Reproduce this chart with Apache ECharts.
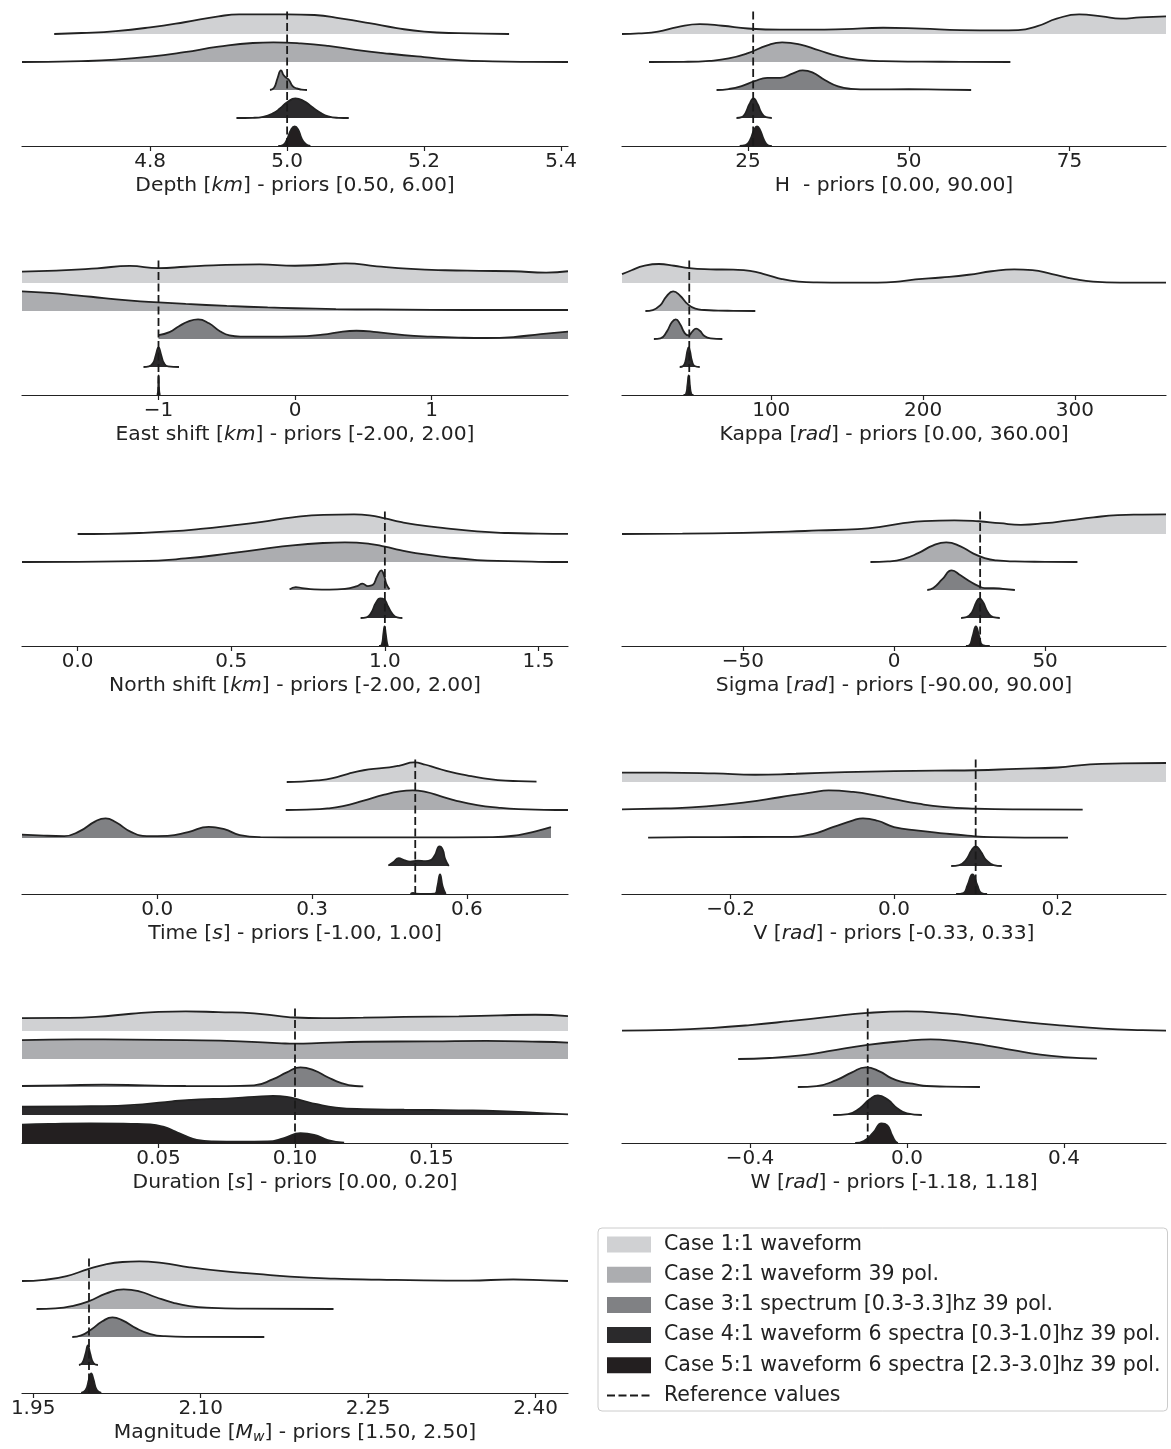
<!DOCTYPE html>
<html><head><meta charset="utf-8">
<script src="https://cdn.jsdelivr.net/npm/echarts@6/dist/echarts.min.js"></script>
<style>html,body{margin:0;padding:0;background:#fff}#chart{width:1171px;height:1449px}</style>
</head><body><div id="chart"></div><script>
// ---------- legend / case names ----------
const caseNames = [
  'Case 1:1 waveform',
  'Case 2:1 waveform 39 pol.',
  'Case 3:1 spectrum [0.3-3.3]hz 39 pol.',
  'Case 4:1 waveform 6 spectra [0.3-1.0]hz 39 pol.',
  'Case 5:1 waveform 6 spectra [2.3-3.0]hz 39 pol.'
];
const refName = 'Reference values';

// ---------- panel axes ----------
const panelTitles = [
  'Depth [{i|km}] - priors [0.50, 6.00]',
  'H  - priors [0.00, 90.00]',
  'East shift [{i|km}] - priors [-2.00, 2.00]',
  'Kappa [{i|rad}] - priors [0.00, 360.00]',
  'North shift [{i|km}] - priors [-2.00, 2.00]',
  'Sigma [{i|rad}] - priors [-90.00, 90.00]',
  'Time [{i|s}] - priors [-1.00, 1.00]',
  'V [{i|rad}] - priors [-0.33, 0.33]',
  'Duration [{i|s}] - priors [0.00, 0.20]',
  'W [{i|rad}] - priors [-1.18, 1.18]',
  'Magnitude [{i|M}{s|w}] - priors [1.50, 2.50]'
];
const panelRanges = [
  [4.613, 5.41], [5.4, 90], [-2, 2], [1.7, 360], [-0.181, 1.596], [-90, 90],
  [-0.262, 0.796], [-0.333, 0.333], [0, 0.2], [-0.726, 0.66], [1.94, 2.429]
];
const panelTicks = [
  [4.8, 5.0, 5.2, 5.4], [25, 50, 75], [-1, 0, 1], [100, 200, 300], [0, 0.5, 1.0, 1.5],
  [-50, 0, 50], [0, 0.3, 0.6], [-0.2, 0, 0.2], [0.05, 0.10, 0.15], [-0.4, 0, 0.4],
  [1.95, 2.10, 2.25, 2.40]
];
const panelTickDecimals = [1, 0, 0, 0, 1, 0, 1, 1, 2, 1, 2];
const panelRefs = [5.0, 25.8, -1.0, 46, 1.0, 28.5, 0.5, 0.1, 0.1, -0.1, 2.0];

// ---------- ridge data: [x, relative density (peak = 1)] ----------
const depthCase1 = [[4.660,0],[4.70,0.05],[4.75,0.15],[4.80,0.34],[4.85,0.6],[4.90,0.9],[4.93,1.0],[4.97,1.0],[5.0,1.0],[5.04,0.97],[5.08,0.78],[5.12,0.55],[5.16,0.3],[5.2,0.12],[5.25,0.04],[5.324,0.0]];
const depthCase2 = [[4.613,0],[4.65,0.01],[4.7,0.04],[4.75,0.12],[4.8,0.27],[4.85,0.5],[4.9,0.78],[4.95,0.97],[4.98,1.0],[5.02,0.95],[5.06,0.82],[5.1,0.62],[5.15,0.42],[5.2,0.25],[5.25,0.1],[5.3,0.03],[5.35,0.005],[5.41,0]];
const depthCase3 = [[4.975,0],[4.981,0.12],[4.986,0.6],[4.991,1.0],[4.995,0.75],[4.999,0.62],[5.003,0.5],[5.008,0.2],[5.014,0.08],[5.021,0.02],[5.029,0]];
const depthCase4 = [[4.926,0],[4.95,0.01],[4.965,0.06],[4.98,0.25],[4.99,0.5],[5.0,0.8],[5.012,1.0],[5.025,0.85],[5.035,0.6],[5.048,0.28],[5.06,0.08],[5.075,0.01],[5.09,0]];
const depthCase5 = [[4.987,0],[4.994,0.05],[5.0,0.35],[5.006,0.85],[5.011,1.0],[5.016,0.85],[5.021,0.4],[5.027,0.1],[5.034,0]];

const hCase1 = [[5.4,0.0],[8,0.03],[11,0.12],[14,0.35],[17.5,0.5],[21,0.42],[25,0.28],[30,0.22],[35,0.22],[40,0.25],[46,0.32],[52,0.27],[58,0.2],[64,0.18],[67,0.2],[70,0.4],[73,0.78],[76.5,1.0],[80,0.9],[83,0.78],[86,0.85],[90,0.9]];
const hCase2 = [[9.6,0],[15,0.01],[19,0.06],[22,0.18],[25,0.45],[28,0.85],[30.3,1.0],[33,0.9],[36,0.6],[39,0.3],[42,0.12],[46,0.04],[52,0.02],[58,0.01],[65.8,0]];
const hCase3 = [[20.1,0],[22,0.05],[24,0.2],[26,0.45],[28,0.62],[30,0.62],[32,0.85],[33.5,1.0],[35,0.9],[37,0.5],[39,0.18],[41,0.06],[44,0.03],[50,0.04],[55,0.02],[59.7,0]];
const hCase4 = [[23.2,0],[24,0.04],[24.6,0.25],[25.2,0.7],[25.85,1.0],[26.5,0.7],[27.1,0.25],[27.8,0.04],[28.7,0]];
const hCase5 = [[23.7,0],[24.6,0.04],[25.3,0.3],[25.9,0.8],[26.4,1.0],[26.9,0.8],[27.5,0.3],[28.1,0.04],[28.7,0]];

const eastCase1 = [[-2,0.58],[-1.75,0.63],[-1.45,0.75],[-1.21,0.87],[-1.0,0.76],[-0.8,0.83],[-0.6,0.9],[-0.26,0.95],[0,0.88],[0.2,0.93],[0.37,1.0],[0.6,0.85],[0.85,0.72],[1.1,0.65],[1.35,0.62],[1.6,0.6],[1.84,0.53],[2.0,0.6]];
const eastCase2 = [[-2,1.0],[-1.8,0.92],[-1.6,0.8],[-1.4,0.66],[-1.2,0.53],[-1.0,0.44],[-0.8,0.36],[-0.5,0.26],[-0.2,0.18],[0,0.14],[0.3,0.1],[0.6,0.08],[1.0,0.06],[1.5,0.05],[2.0,0.05]];
const eastCase3 = [[-1.0,0.2],[-0.92,0.35],[-0.85,0.65],[-0.78,0.9],[-0.71,1.0],[-0.63,0.8],[-0.55,0.4],[-0.48,0.18],[-0.4,0.12],[-0.2,0.12],[0,0.13],[0.2,0.22],[0.35,0.38],[0.45,0.42],[0.6,0.35],[0.8,0.2],[1.0,0.12],[1.2,0.07],[1.4,0.05],[1.6,0.1],[1.8,0.25],[2.0,0.38]];
const eastCase4 = [[-1.11,0],[-1.07,0.03],[-1.04,0.2],[-1.02,0.6],[-1.0,1.0],[-0.98,0.6],[-0.96,0.2],[-0.93,0.03],[-0.85,0]];
const eastCase5 = [[-1.008,0],[-1.003,0.2],[-0.999,1.0],[-0.995,0.2],[-0.99,0]];

const kappaCase1 = [[1.7,0.45],[8,0.65],[16,0.87],[26,0.97],[36,0.88],[46,0.76],[60,0.7],[75,0.68],[86,0.62],[97,0.42],[107,0.2],[118,0.07],[130,0.03],[150,0.02],[170,0.02],[185,0.08],[195,0.18],[212,0.28],[230,0.42],[245,0.6],[260,0.7],[272,0.66],[285,0.45],[300,0.2],[312,0.07],[330,0.02],[360,0.02]];
const kappaCase2 = [[17.1,0],[22,0.05],[27,0.3],[31,0.75],[35.4,1.0],[40,0.78],[45,0.35],[50,0.12],[56,0.05],[65,0.02],[75,0.01],[89.5,0]];
const kappaCase3 = [[22.7,0],[27,0.03],[31,0.35],[34.5,0.85],[37.1,1.0],[40,0.75],[43,0.3],[45.5,0.18],[48,0.38],[50.5,0.53],[53,0.42],[56,0.15],[60,0.03],[67.8,0]];
const kappaCase4 = [[39.7,0],[42,0.05],[43.5,0.3],[44.7,0.8],[45.6,1.0],[46.5,0.8],[47.8,0.3],[49.5,0.05],[52.9,0]];
const kappaCase5 = [[42.2,0],[43.8,0.05],[44.8,0.5],[45.6,1.0],[46.4,0.5],[47.4,0.05],[48.8,0]];

const northCase1 = [[0.0,0],[0.1,0.01],[0.2,0.05],[0.3,0.13],[0.4,0.26],[0.5,0.43],[0.6,0.62],[0.7,0.85],[0.8,0.98],[0.9,1.0],[0.95,0.95],[1.0,0.8],[1.05,0.62],[1.1,0.48],[1.2,0.29],[1.3,0.13],[1.4,0.05],[1.5,0.02],[1.596,0.01]];
const northCase2 = [[-0.181,0],[0.0,0.01],[0.2,0.04],[0.35,0.18],[0.5,0.45],[0.6,0.66],[0.7,0.85],[0.8,0.97],[0.87,1.0],[0.95,0.93],[1.0,0.78],[1.05,0.6],[1.1,0.45],[1.2,0.25],[1.3,0.1],[1.4,0.04],[1.5,0.01],[1.596,0]];
const northCase3 = [[0.69,0.03],[0.71,0.15],[0.73,0.1],[0.77,0.03],[0.82,0.02],[0.87,0.06],[0.91,0.2],[0.927,0.33],[0.945,0.2],[0.96,0.25],[0.975,0.7],[0.988,1.0],[0.998,0.7],[1.005,0.3],[1.015,0.03]];
const northCase4 = [[0.921,0],[0.94,0.03],[0.955,0.25],[0.97,0.75],[0.985,1.0],[0.998,0.95],[1.01,0.6],[1.025,0.2],[1.04,0.03],[1.057,0]];
const northCase5 = [[0.981,0],[0.99,0.08],[0.995,0.6],[0.999,1.0],[1.003,0.6],[1.008,0.08],[1.011,0]];

const sigmaCase1 = [[-90,0.0],[-70,0.02],[-50,0.06],[-35,0.12],[-25,0.18],[-12,0.25],[-5,0.35],[3,0.55],[10,0.66],[20,0.7],[28,0.65],[35,0.55],[42,0.47],[50,0.55],[58,0.7],[66,0.85],[74,0.96],[82,0.99],[90,1.0]];
const sigmaCase2 = [[-7.8,0],[-2,0.03],[3,0.15],[8,0.45],[13,0.85],[17.3,1.0],[22,0.8],[26,0.45],[30,0.2],[34,0.08],[40,0.03],[50,0.01],[60.7,0]];
const sigmaCase3 = [[11,0],[13,0.1],[16,0.55],[19.1,1.0],[22,0.75],[25,0.45],[28,0.2],[30,0.1],[33,0.1],[36,0.06],[40,0]];
const sigmaCase4 = [[22.2,0],[24,0.04],[25.8,0.3],[27.2,0.8],[28.3,1.0],[29.5,0.8],[31,0.3],[32.8,0.04],[35,0]];
const sigmaCase5 = [[23.8,0],[25,0.05],[26,0.5],[27.1,1.0],[28.2,0.5],[29.3,0.05],[31.7,0]];

const timeCase1 = [[0.251,0],[0.28,0.02],[0.31,0.08],[0.34,0.2],[0.37,0.42],[0.4,0.6],[0.43,0.7],[0.45,0.75],[0.47,0.84],[0.498,1.0],[0.52,0.88],[0.54,0.72],[0.57,0.5],[0.6,0.34],[0.63,0.2],[0.66,0.1],[0.7,0.04],[0.735,0.02]];
const timeCase2 = [[0.249,0],[0.29,0.02],[0.33,0.08],[0.36,0.2],[0.4,0.48],[0.44,0.78],[0.47,0.95],[0.495,1.0],[0.52,0.92],[0.55,0.7],[0.58,0.47],[0.62,0.25],[0.66,0.12],[0.7,0.04],[0.75,0.01],[0.796,0]];
const timeCase3 = [[-0.262,0.17],[-0.22,0.12],[-0.18,0.1],[-0.15,0.35],[-0.12,0.85],[-0.1,1.0],[-0.08,0.8],[-0.05,0.3],[-0.02,0.1],[0.02,0.11],[0.06,0.3],[0.1,0.57],[0.13,0.45],[0.16,0.15],[0.2,0.04],[0.3,0.03],[0.5,0.03],[0.65,0.04],[0.7,0.15],[0.735,0.35],[0.763,0.55]];
const timeCase4 = [[0.448,0.02],[0.458,0.2],[0.468,0.4],[0.478,0.3],[0.49,0.22],[0.505,0.27],[0.52,0.25],[0.53,0.3],[0.538,0.55],[0.547,1.0],[0.553,0.85],[0.558,0.35],[0.565,0.0]];
const timeCase5 = [[0.491,0],[0.496,0.06],[0.5,0.02],[0.52,0.0],[0.538,0.02],[0.543,0.4],[0.548,1.0],[0.553,0.4],[0.559,0]];

const vCase1 = [[-0.333,0.48],[-0.28,0.48],[-0.22,0.44],[-0.17,0.37],[-0.12,0.42],[-0.06,0.5],[0.0,0.55],[0.05,0.58],[0.1,0.6],[0.15,0.67],[0.2,0.74],[0.24,0.9],[0.28,0.95],[0.333,0.97]];
const vCase2 = [[-0.333,0.03],[-0.28,0.08],[-0.23,0.18],[-0.18,0.4],[-0.14,0.65],[-0.1,0.9],[-0.08,1.0],[-0.05,0.92],[-0.02,0.72],[0.0,0.55],[0.03,0.32],[0.06,0.16],[0.1,0.07],[0.15,0.03],[0.231,0.02]];
const vCase3 = [[-0.301,0.02],[-0.25,0.04],[-0.18,0.05],[-0.13,0.06],[-0.1,0.2],[-0.075,0.55],[-0.05,0.9],[-0.038,1.0],[-0.02,0.88],[0.0,0.56],[0.03,0.38],[0.06,0.24],[0.09,0.12],[0.12,0.04],[0.16,0.02],[0.213,0.02]];
const vCase4 = [[0.070,0],[0.08,0.05],[0.088,0.3],[0.095,0.8],[0.1,1.0],[0.106,0.75],[0.113,0.3],[0.122,0.05],[0.132,0]];
const vCase5 = [[0.076,0],[0.085,0.05],[0.09,0.45],[0.096,1.0],[0.102,0.45],[0.107,0.05],[0.114,0]];

const durationCase1 = [[0,0.66],[0.015,0.67],[0.027,0.72],[0.04,0.88],[0.05,0.98],[0.06,1.0],[0.072,0.96],[0.085,0.9],[0.095,0.75],[0.1,0.69],[0.11,0.66],[0.125,0.68],[0.14,0.72],[0.16,0.75],[0.175,0.8],[0.188,0.83],[0.2,0.76]];
const durationCase2 = [[0,0.96],[0.02,1.0],[0.04,0.99],[0.06,0.96],[0.08,0.9],[0.095,0.8],[0.1,0.78],[0.11,0.82],[0.125,0.88],[0.15,0.9],[0.17,0.92],[0.19,0.88],[0.2,0.84]];
const durationCase3 = [[0,0.05],[0.015,0.08],[0.03,0.12],[0.045,0.08],[0.06,0.05],[0.075,0.04],[0.085,0.08],[0.092,0.4],[0.097,0.75],[0.102,1.0],[0.107,0.85],[0.112,0.5],[0.117,0.2],[0.122,0.05],[0.125,0.03]];
const durationCase4 = [[0,0.42],[0.02,0.44],[0.035,0.47],[0.045,0.55],[0.055,0.7],[0.065,0.8],[0.075,0.84],[0.085,0.92],[0.092,0.97],[0.097,0.92],[0.102,0.76],[0.108,0.55],[0.115,0.38],[0.125,0.3],[0.14,0.27],[0.16,0.24],[0.175,0.2],[0.19,0.1],[0.2,0.03]];
const durationCase5 = [[0,0.93],[0.01,0.97],[0.025,1.0],[0.04,0.98],[0.047,0.95],[0.052,0.82],[0.056,0.6],[0.06,0.35],[0.064,0.16],[0.07,0.08],[0.08,0.07],[0.09,0.08],[0.096,0.25],[0.102,0.5],[0.107,0.42],[0.112,0.15],[0.118,0.02]];

const wCase1 = [[-0.726,0.02],[-0.6,0.06],[-0.5,0.15],[-0.4,0.3],[-0.3,0.5],[-0.2,0.72],[-0.1,0.92],[0.0,1.0],[0.1,0.9],[0.2,0.68],[0.3,0.45],[0.4,0.27],[0.5,0.12],[0.6,0.04],[0.66,0.02]];
const wCase2 = [[-0.43,0],[-0.35,0.05],[-0.27,0.18],[-0.2,0.4],[-0.1,0.72],[0.0,0.93],[0.06,1.0],[0.12,0.92],[0.2,0.7],[0.27,0.45],[0.34,0.22],[0.4,0.1],[0.484,0.02]];
const wCase3 = [[-0.278,0],[-0.23,0.05],[-0.18,0.35],[-0.14,0.75],[-0.105,1.0],[-0.07,0.8],[-0.04,0.45],[-0.01,0.25],[0.02,0.15],[0.05,0.05],[0.1,0.02],[0.186,0]];
const wCase4 = [[-0.188,0],[-0.15,0.05],[-0.12,0.35],[-0.095,0.8],[-0.074,1.0],[-0.05,0.8],[-0.025,0.35],[0.0,0.08],[0.038,0]];
const wCase5 = [[-0.132,0],[-0.11,0.1],[-0.085,0.55],[-0.065,1.0],[-0.05,0.9],[-0.038,0.4],[-0.03,0.1],[-0.023,0]];

const magCase1 = [[1.94,0],[1.96,0.06],[1.98,0.25],[2.0,0.62],[2.015,0.85],[2.03,0.97],[2.045,1.0],[2.065,0.92],[2.09,0.7],[2.12,0.5],[2.15,0.36],[2.18,0.22],[2.22,0.12],[2.26,0.07],[2.3,0.03],[2.34,0.02],[2.38,0.08],[2.41,0.03],[2.429,0.0]];
const magCase2 = [[1.953,0],[1.97,0.03],[1.985,0.15],[2.0,0.4],[2.015,0.78],[2.031,1.0],[2.045,0.9],[2.06,0.6],[2.075,0.33],[2.09,0.15],[2.11,0.06],[2.14,0.02],[2.219,0]];
const magCase3 = [[1.985,0],[1.993,0.08],[2.002,0.38],[2.012,0.8],[2.021,1.0],[2.03,0.85],[2.042,0.45],[2.055,0.15],[2.068,0.04],[2.09,0.01],[2.157,0]];
const magCase4 = [[1.991,0],[1.994,0.1],[1.997,0.6],[1.999,1.0],[2.001,0.6],[2.004,0.1],[2.008,0]];
const magCase5 = [[1.993,0],[1.997,0.15],[2.0,0.7],[2.002,1.0],[2.004,0.7],[2.007,0.15],[2.011,0]];

const panelCurves = [
  [depthCase1, depthCase2, depthCase3, depthCase4, depthCase5],
  [hCase1, hCase2, hCase3, hCase4, hCase5],
  [eastCase1, eastCase2, eastCase3, eastCase4, eastCase5],
  [kappaCase1, kappaCase2, kappaCase3, kappaCase4, kappaCase5],
  [northCase1, northCase2, northCase3, northCase4, northCase5],
  [sigmaCase1, sigmaCase2, sigmaCase3, sigmaCase4, sigmaCase5],
  [timeCase1, timeCase2, timeCase3, timeCase4, timeCase5],
  [vCase1, vCase2, vCase3, vCase4, vCase5],
  [durationCase1, durationCase2, durationCase3, durationCase4, durationCase5],
  [wCase1, wCase2, wCase3, wCase4, wCase5],
  [magCase1, magCase2, magCase3, magCase4, magCase5]
];

// ---------- styles / layout ----------
const fillColors = ['#d0d1d3', '#acadb0', '#808184', '#2b2a2c', '#231f20'];
const edgeColor = '#222222';
const FONT = 'DejaVu Sans';
const colLeft = [22, 622], colWidth = [546, 544];
const rowAxisY = [146, 395, 646, 894, 1143, 1393];
const ridgePitch = 28, nRidge = 5, peakScale = 0.7;
const dashPattern = [8, 3.5];

function fmt(d) {
  return v => (v < 0 ? '\u2212' : '') + Math.abs(v).toFixed(d);
}

const grids = [], xAxes = [], yAxes = [], series = [];
panelTitles.forEach((title, i) => {
  const col = i === 10 ? 0 : i % 2;
  const row = Math.floor(i / 2);
  const axisY = rowAxisY[row];
  grids.push({ left: colLeft[col], width: colWidth[col], top: axisY - ridgePitch * nRidge, height: ridgePitch * nRidge, outerBoundsMode: 'none', containLabel: false });
  xAxes.push({
    type: 'value', gridIndex: i, min: panelRanges[i][0], max: panelRanges[i][1],
    axisLine: { show: true, onZero: false, lineStyle: { color: edgeColor, width: 1.2 } },
    axisTick: { show: true, length: 5, inside: false, customValues: panelTicks[i], lineStyle: { color: edgeColor, width: 1.2 } },
    axisLabel: { show: true, customValues: panelTicks[i], formatter: fmt(panelTickDecimals[i]), fontSize: 20, fontFamily: FONT, color: edgeColor, margin: 6, hideOverlap: false },
    splitLine: { show: false },
    name: title, nameLocation: 'middle', nameGap: 28,
    nameTextStyle: {
      fontSize: 20.3, fontFamily: FONT, color: edgeColor, lineHeight: 23,
      rich: {
        i: { fontSize: 20.3, fontFamily: FONT, fontStyle: 'italic', color: edgeColor, lineHeight: 23 },
        s: { fontSize: 14, fontFamily: FONT, fontStyle: 'italic', color: edgeColor, lineHeight: 13, verticalAlign: 'bottom' }
      }
    }
  });
  yAxes.push({ type: 'value', gridIndex: i, min: 0, max: nRidge, show: false });
  panelCurves[i].forEach((curve, k) => {
    const base = nRidge - 1 - k;
    series.push({
      type: 'line', name: caseNames[k], xAxisIndex: i, yAxisIndex: i,
      data: curve.map(p => [p[0], base + peakScale * p[1]]),
      smooth: 0.5, symbol: 'none', silent: true,
      color: fillColors[k],
      itemStyle: { color: fillColors[k] },
      lineStyle: { color: edgeColor, width: 1.8 },
      areaStyle: { color: fillColors[k], opacity: 1, origin: base },
      z: 2
    });
  });
  series.push({
    type: 'line', name: refName, xAxisIndex: i, yAxisIndex: i,
    data: [[panelRefs[i], 0], [panelRefs[i], nRidge - 0.07]],
    symbol: 'none', silent: true, color: '#1a1a1a',
    lineStyle: { color: '#1a1a1a', width: 1.8, type: dashPattern },
    z: 5
  });
});

const chart = echarts.init(document.getElementById('chart'), null, { renderer: 'canvas' });
chart.setOption({
  animation: false,
  backgroundColor: '#ffffff',
  textStyle: { fontFamily: FONT },
  grid: grids, xAxis: xAxes, yAxis: yAxes, series: series,
  legend: {
    orient: 'vertical', left: 598, top: 1228,
    data: caseNames.map(n => ({ name: n, icon: 'rect' })).concat([{ name: refName, itemStyle: { color: 'rgba(0,0,0,0)', borderWidth: 0, opacity: 0 } }]),
    itemWidth: 44, itemHeight: 16, itemGap: 9.2,
    padding: [6, 7, 5, 8],
    borderColor: '#cccccc', borderWidth: 1, borderRadius: 4, backgroundColor: '#ffffff',
    itemStyle: { borderWidth: 0 },
    textStyle: { fontSize: 20.5, fontFamily: FONT, color: edgeColor, lineHeight: 20, padding: [0, 0, 0, 8] },
    selectedMode: false
  }
});
</script></body></html>
